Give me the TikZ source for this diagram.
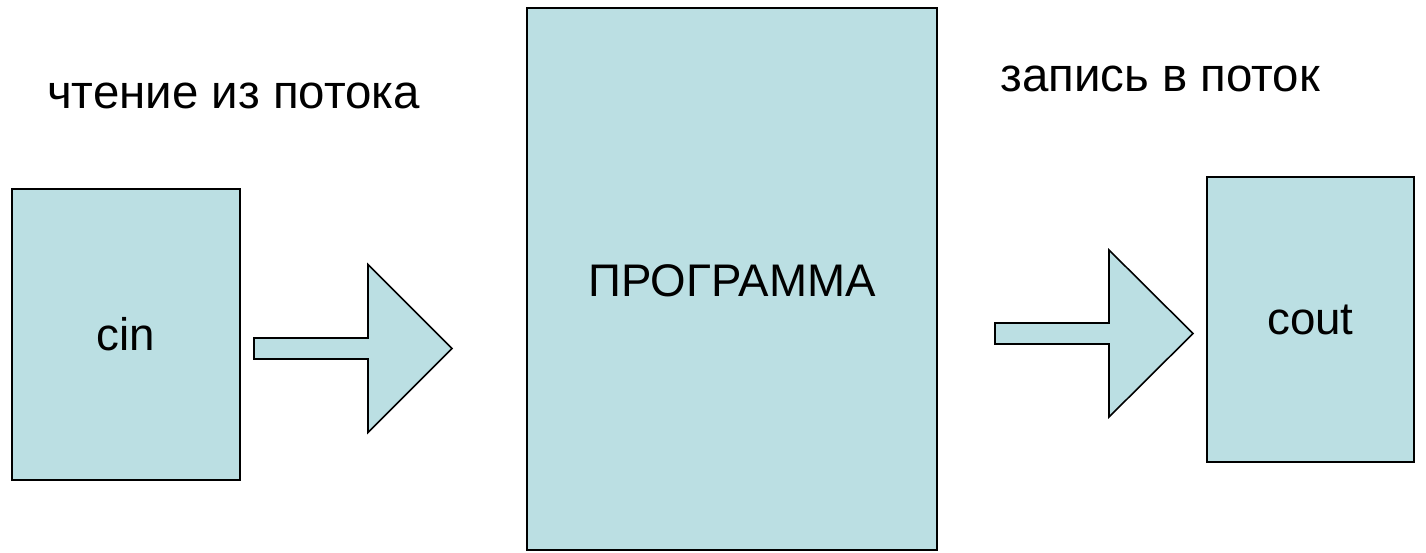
\documentclass[tikz,border=0pt]{standalone}
\usepackage{fontspec}
\setmainfont{Liberation Sans}
\definecolor{boxfill}{HTML}{BBDFE3}
% block arrow: tail x, tip x, mid y, head base x, half shaft, half head
\newcommand{\blockarrow}[6]{\draw[blockline] (#1,#3-#5) -- (#4,#3-#5) -- (#4,#3-#6) -- (#2,#3) -- (#4,#3+#6) -- (#4,#3+#5) -- (#1,#3+#5) -- cycle;}
\tikzset{
	blockline/.style={draw=black, fill=boxfill, line width=0.9pt, line join=miter},
	streambox/.style={draw=black, fill=boxfill, line width=0.9pt, inner sep=0pt, font=\fontsize{26}{30}\selectfont},
	caption/.style={font=\fontsize{27}{31}\selectfont, inner sep=0pt}
}
\begin{document}
\begin{tikzpicture}[x=0.02cm, y=-0.02cm]
	%%%%% START %%%%%
	\useasboundingbox (0,0) rectangle (1426,553);
	
	\node[streambox, minimum width=228*0.02cm, minimum height=291*0.02cm] (cin) at (126,334.5) {cin};
	\node[streambox, minimum width=410*0.02cm, minimum height=542*0.02cm] (prog) at (732,279) {};
	\node[font=\fontsize{26}{30}\selectfont] (progtext) at (732,280.5) {ПРОГРАММА};
	\node[streambox, minimum width=207*0.02cm, minimum height=285*0.02cm] (cout) at (1310.5,319.5) {cout};
	
	\node[caption] (readlbl) at (233.5,96) {чтение из потока};
	\node[caption, anchor=base west] (writelbl) at (1000,92) {запись в поток};
	
	\blockarrow{254}{452}{348.5}{368}{10.5}{84}
	\blockarrow{995}{1193}{333.5}{1109}{10.5}{83.5}
	
	%%%%% END %%%%%
\end{tikzpicture}
\end{document}
